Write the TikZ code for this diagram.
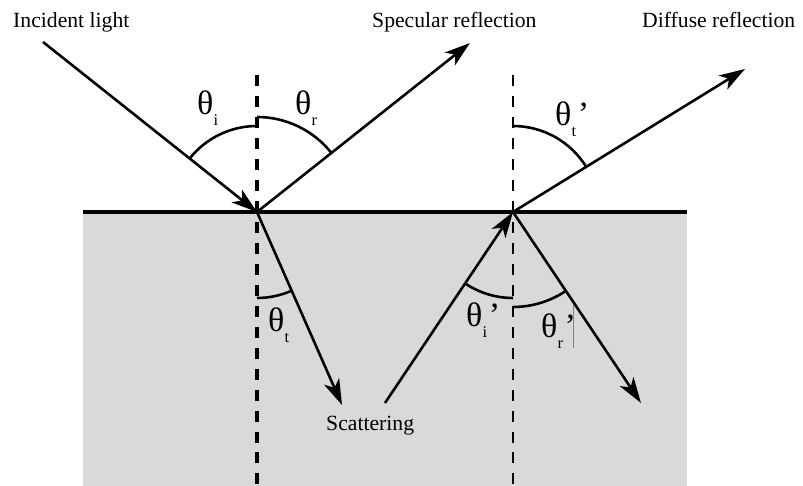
\documentclass[tikz,border=0pt]{standalone}
\usepackage{fontspec}
\setmainfont{Liberation Serif}
\usetikzlibrary{arrows.meta}
\newcommand{\thlab}[2]{θ\raisebox{-9pt}{\fontsize{14}{14}\selectfont #1}\kern1.5pt#2}

\begin{document}
\begin{tikzpicture}[
  x=0.03cm, y=0.03cm,
  ray/.style={line width=2.2pt,-{Stealth[length=22pt,width=14pt,inset=6pt]}},
  normal/.style={line width=3pt,dash pattern=on 9.4pt off 8.5pt},
  angarc/.style={line width=2.2pt},
  txt/.style={inner sep=0pt,anchor=base west,font=\fontsize{18.5}{22}\selectfont},
  thlabel/.style={inner sep=0pt,anchor=base west,font=\fontsize{29}{30}\selectfont}
]
\useasboundingbox (0,0) rectangle (803,486);
\fill[gray!30] (83,0) rectangle (687,274);
\draw[line width=2.6pt] (83,274) -- (687,274);

\coordinate (A) at (257,274);
\coordinate (B) at (513,274);
\coordinate (incident) at (43,444);
\coordinate (specular) at (470,443);
\coordinate (refracted) at (342,81);
\coordinate (scatter) at (385,83);
\coordinate (diffuse) at (745,417);
\coordinate (inner) at (641,83);

\draw[normal] (257,411) -- (257,0);
\draw[normal,line width=2.3pt] (513,411) -- (513,0);

\draw[ray] (incident) -- (A);
\draw[ray] (A) -- (specular);
\draw[ray] (A) -- (refracted);
\draw[ray] (scatter) -- (B);
\draw[ray] (B) -- (diffuse);
\draw[ray] (B) -- (inner);

\draw[angarc] ([shift={(141.5:86)}]A) arc[start angle=141.5, end angle=90, radius=86];
\draw[angarc] ([shift={(90:95)}]A) arc[start angle=90, end angle=38.4, radius=95];
\draw[angarc] ([shift={(-90:86)}]A) arc[start angle=-90, end angle=-66.2, radius=86];
\draw[angarc] ([shift={(90:86)}]B) arc[start angle=90, end angle=31.6, radius=86];
\draw[angarc] ([shift={(-123.8:86)}]B) arc[start angle=-123.8, end angle=-90, radius=86];
\draw[angarc] ([shift={(-90:95)}]B) arc[start angle=-90, end angle=-56.2, radius=95];
\draw[gray,line width=0.6pt] (573,181) -- (573,138);

\node[thlabel] (thi) at (197,371) {\thlab{i}{}};
\node[thlabel] (thr) at (295,371) {\thlab{r}{}};
\node[thlabel] (tht) at (268,154) {\thlab{t}{}};
\node[thlabel] (thtp) at (555,360) {\thlab{t}{’}};
\node[thlabel] (thip) at (466,159) {\thlab{i}{’}};
\node[thlabel] (thrp) at (541,148) {\thlab{r}{’}};

\node[txt] (inclbl) at (13,458) {Incident light};
\node[txt] (speclbl) at (372,458) {Specular reflection};
\node[txt] (difflbl) at (642,458) {Diffuse reflection};
\node[txt] (scatlbl) at (326,55) {Scattering};
\end{tikzpicture}
\end{document}
